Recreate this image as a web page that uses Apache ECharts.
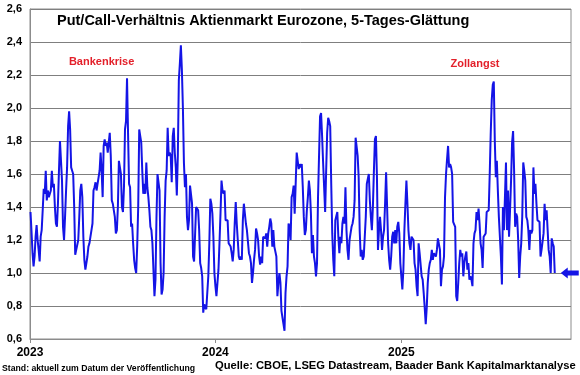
<!DOCTYPE html>
<html>
<head>
<meta charset="utf-8">
<script src="https://cdn.jsdelivr.net/npm/echarts@6/dist/echarts.min.js"></script>
<style>
html,body{margin:0;padding:0;background:#fff;}
#chart{width:580px;height:375px;}
</style>
</head>
<body>
<div id="chart"></div>
<script>
// ---- data ----
const titleText = 'Put/Call-Verhältnis Aktienmarkt Eurozone, 5-Tages-Glättung';
const sourceText = 'Quelle: CBOE, LSEG Datastream, Baader Bank Kapitalmarktanalyse';
const standText = 'Stand: aktuell zum Datum der Veröffentlichung';
const startDate = [2023, 0, 2];   // first observation
const stepDays = 2;               // observation spacing (days)
const axisStart = [2023, 0, 1];
const axisEnd = [2025, 11, 1];
const yTicks = [0.6, 0.8, 1.0, 1.2, 1.4, 1.6, 1.8, 2.0, 2.2, 2.4, 2.6];
const annotations = [
  { name: 'Bankenkrise', date: [2023, 4, 22], value: 2.28 },
  { name: 'Zollangst', date: [2025, 4, 26], value: 2.265 }
];
const putCallRatio = [
  1.37,1.25,1.12,1.04,1.10,1.22,1.29,1.20,1.14,1.07,
  1.22,1.26,1.38,1.51,1.48,1.62,1.44,1.50,1.46,1.47,
  1.50,1.62,1.52,1.54,1.40,1.30,1.28,1.42,1.62,1.80,
  1.79,1.56,1.28,1.20,1.34,1.50,1.64,1.89,1.98,1.87,
  1.64,1.62,1.60,1.40,1.11,1.14,1.13,1.20,1.34,
  1.50,1.54,1.46,1.22,1.08,1.02,1.06,1.10,1.16,1.18,
  1.22,1.26,1.30,1.50,1.52,1.55,1.50,1.54,1.58,1.62,
  1.73,1.62,1.46,1.77,1.81,1.77,1.79,1.73,1.73,1.85,
  1.71,1.44,1.42,1.38,1.34,1.24,1.26,1.40,1.68,1.64,1.60,
  1.40,1.37,1.52,1.87,1.92,2.18,1.85,1.54,
  1.52,1.28,1.30,1.18,1.08,1.03,1.00,1.16,1.40,1.87,
  1.86,1.79,1.62,1.48,1.54,1.48,1.67,1.52,1.46,1.38,
  1.28,1.26,1.18,1.02,0.86,0.96,1.34,1.60,1.60,1.50,
  1.06,0.87,0.90,1.00,1.34,1.56,1.62,1.88,1.71,1.73,
  1.71,1.55,1.83,1.88,1.73,1.64,1.47,1.71,2.17,2.27,
  2.38,2.23,2.00,1.67,1.52,1.60,1.34,1.26,1.32,
  1.53,1.54,1.42,1.10,1.07,1.06,1.40,1.41,1.38,1.26,
  1.06,1.03,0.98,0.76,0.81,0.81,0.78,0.88,0.98,1.18,
  1.45,1.42,1.36,1.22,1.00,0.92,0.86,0.94,1.02,1.18,
  1.36,1.56,1.50,1.48,1.50,1.32,1.31,1.32,1.18,1.18,
  1.16,1.12,1.07,1.14,1.30,1.43,1.30,1.20,1.10,
  1.08,1.10,1.08,1.32,1.42,1.36,1.30,1.26,1.26,1.12,
  1.10,1.06,0.94,1.00,1.08,1.14,1.27,1.24,1.20,1.10,
  1.05,1.10,1.06,1.22,1.23,1.21,1.24,1.16,1.24,1.28,
  1.33,1.30,1.16,1.26,1.16,1.15,1.10,0.86,0.94,1.00,
  0.94,0.77,0.73,0.69,0.65,0.88,0.98,1.04,1.30,1.28,
  1.20,1.46,1.48,1.53,1.36,1.54,1.73,1.74,1.63,
  1.66,1.64,1.66,1.52,1.34,1.23,1.26,1.38,1.46,1.56,
  1.50,1.36,1.12,1.23,1.10,1.06,0.98,1.06,1.46,1.71,
  1.95,1.97,1.83,1.67,1.52,1.37,1.62,1.85,1.94,1.92,
  1.89,1.54,1.24,1.08,0.98,1.32,1.32,1.37,1.22,1.12,
  1.22,1.18,1.30,1.34,1.30,1.52,1.26,1.14,1.08,
  1.20,1.24,1.28,1.30,1.34,1.44,1.82,1.81,1.71,1.58,
  1.26,1.10,1.14,1.08,1.10,1.22,1.34,1.54,1.54,1.60,
  1.44,1.34,1.26,1.40,1.62,1.81,1.83,1.58,1.14,1.26,
  1.34,1.26,1.14,1.22,1.26,1.42,1.61,1.40,1.18,1.08,
  1.02,1.10,1.22,1.25,1.18,1.26,1.18,1.28,1.31,1.24,
  1.06,0.98,0.90,1.02,1.26,1.42,1.56,1.42,1.26,
  1.18,1.14,1.22,1.21,1.20,1.06,1.02,0.92,0.86,1.18,
  1.12,1.13,0.98,0.96,0.88,0.79,0.69,0.79,0.94,1.02,
  1.06,1.08,1.14,1.08,1.12,1.11,1.10,1.14,1.21,1.20,
  1.14,0.92,1.02,1.04,1.10,1.46,1.60,1.69,1.77,1.64,
  1.66,1.64,1.60,1.31,1.30,1.28,0.86,0.83,0.94,
  1.06,1.14,1.10,1.12,0.98,1.06,1.10,1.13,1.02,1.06,
  0.96,0.98,0.96,0.92,1.18,1.24,1.26,1.37,1.32,1.39,
  1.30,1.18,1.14,1.03,1.22,1.22,1.24,1.37,1.36,1.38,
  1.60,1.85,2.05,2.14,2.16,1.80,1.58,1.68,1.50,1.34,
  1.22,1.10,0.93,1.40,1.26,1.26,1.67,1.26,1.50,1.22,
  1.38,1.56,1.79,1.86,1.62,1.28,1.36,1.34,1.20,
  0.97,1.10,1.18,1.34,1.67,1.62,1.56,1.34,1.32,1.26,
  1.14,1.26,1.24,1.26,1.64,1.48,1.54,1.42,1.32,1.33,
  1.31,1.10,1.14,1.14,1.24,1.42,1.32,1.38,1.26,1.14,
  1.10,1.00,1.21,1.18,1.16,1.00
];

// ---- build ----
const ts = a => new Date(a[0], a[1], a[2]).getTime();
const dates = putCallRatio.map((v, i) => new Date(startDate[0], startDate[1], startDate[2] + i * stepDays).getTime());
const seriesData = putCallRatio.map((v, i) => [dates[i], v]);
const last = seriesData[seriesData.length - 1];
const FONT = '"Liberation Sans", Arial, sans-serif';
const YEAR = 365 * 24 * 3600 * 1000;

const chart = echarts.init(document.getElementById('chart'), null, { renderer: 'canvas' });
chart.setOption({
  animation: false,
  backgroundColor: '#ffffff',
  title: [
    { text: titleText, left: 57, top: 13, padding: 0, textStyle: { fontFamily: FONT, fontSize: 14.5, fontWeight: 'bold', color: '#000' } },
    { text: sourceText, left: 215, top: 360, padding: 0, textStyle: { fontFamily: FONT, fontSize: 11.2, fontWeight: 'bold', color: '#000' } },
    { text: standText, left: 2, top: 364, padding: 0, textStyle: { fontFamily: FONT, fontSize: 8.7, fontWeight: 'bold', color: '#000' } }
  ],
  grid: { left: 30, right: 9, top: 9, bottom: 36, show: true, borderColor: '#8c8c8c', borderWidth: 1 },
  xAxis: {
    type: 'time',
    min: ts(axisStart),
    max: ts(axisEnd),
    minInterval: YEAR,
    axisLine: { show: true, lineStyle: { color: '#8c8c8c', width: 1 } },
    axisTick: { show: true, length: 4, lineStyle: { color: '#8c8c8c' } },
    splitLine: { show: false },
    axisLabel: {
      fontFamily: FONT, fontSize: 12, fontWeight: 'bold', color: '#000', margin: 8,
      formatter: function (val) {
        const d = new Date(val);
        return (d.getMonth() === 0 && d.getDate() === 1) ? String(d.getFullYear()) : '';
      }
    }
  },
  yAxis: {
    type: 'value',
    min: yTicks[0], max: yTicks[yTicks.length - 1], interval: 0.2,
    axisLine: { show: true, lineStyle: { color: '#8c8c8c', width: 1 } },
    axisTick: { show: false },
    splitLine: { show: true, lineStyle: { color: '#7f7f7f', width: 1 } },
    axisLabel: {
      fontFamily: FONT, fontSize: 11, fontWeight: 'bold', color: '#000', margin: 8,
      formatter: v => v.toFixed(1).replace('.', ',')
    }
  },
  series: [{
    type: 'line',
    data: seriesData,
    showSymbol: false,
    symbol: 'none',
    lineStyle: { color: '#1414e6', width: 2 },
    markPoint: {
      silent: true,
      data: [
        ...annotations.map(a => ({
          name: a.name, coord: [ts(a.date), a.value], symbol: 'circle', symbolSize: 1,
          itemStyle: { color: 'rgba(0,0,0,0)' },
          label: { show: true, position: 'inside', formatter: a.name, color: '#e3202a', fontFamily: FONT, fontSize: 11, fontWeight: 'bold' }
        })),
        {
          name: 'arrow', coord: last,
          symbol: 'path://M0,5.5 L7,0 L7,3 L18,3 L18,8 L7,8 L7,11 Z',
          symbolSize: [18, 11], symbolOffset: [15, 0],
          itemStyle: { color: '#1414e6' }, label: { show: false }
        }
      ]
    }
  }]
});
</script>
</body>
</html>
